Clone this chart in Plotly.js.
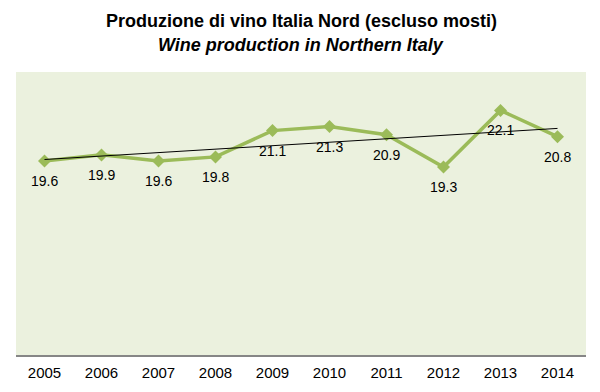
<!DOCTYPE html>
<html>
<head>
<meta charset="utf-8">
<script src="https://cdn.plot.ly/plotly-3.0.1.min.js"></script>
<style>body{margin:0;padding:0;background:#fff}#chart{width:600px;height:392px}</style>
</head>
<body>
<div id="chart"></div>
<script>
const years = ["2005","2006","2007","2008","2009","2010","2011","2012","2013","2014"];
const production = [19.6, 19.9, 19.6, 19.8, 21.1, 21.3, 20.9, 19.3, 22.1, 20.8];
const titleLine1 = "Produzione di vino Italia Nord (escluso mosti)";
const titleLine2 = "Wine production in Northern Italy";

// linear trendline (least squares) derived from the data
const n = production.length;
const xs = production.map((_, i) => i);
const mx = xs.reduce((a, b) => a + b, 0) / n;
const my = production.reduce((a, b) => a + b, 0) / n;
let sxy = 0, sxx = 0;
for (let i = 0; i < n; i++) { sxy += (xs[i] - mx) * (production[i] - my); sxx += (xs[i] - mx) * (xs[i] - mx); }
const slope = sxy / sxx, intercept = my - slope * mx;
const trend = xs.map(x => intercept + slope * x);

const titleFont = "'Liberation Sans Narrow', 'Arial Narrow', 'Liberation Sans', Arial, sans-serif";

const data = [
  {
    x: years, y: production, type: "scatter", mode: "lines+markers",
    line: {color: "#9BBB59", width: 3.5},
    marker: {symbol: "diamond", size: 10, color: "#9BBB59"},
    hoverinfo: "skip", showlegend: false
  },
  {
    x: years, y: trend, type: "scatter", mode: "lines",
    line: {color: "#000000", width: 1},
    hoverinfo: "skip", showlegend: false
  }
];

const annotations = years.map((yr, i) => ({
  x: i, y: production[i], xref: "x", yref: "y",
  text: production[i].toFixed(1), showarrow: false, yshift: -20,
  font: {family: "'Liberation Sans', Arial, sans-serif", size: 14, color: "#000"}
}));
annotations.push({
  xref: "paper", yref: "paper", x: 0.5, y: 1, yanchor: "bottom", yshift: 39,
  text: "<b>" + titleLine1 + "</b>", showarrow: false,
  font: {family: titleFont, size: 18, color: "#000"}
});
annotations.push({
  xref: "paper", yref: "paper", x: 0.5, y: 1, yanchor: "bottom", yshift: 15,
  text: "<b><i>" + titleLine2 + "</i></b>", showarrow: false,
  font: {family: titleFont, size: 18, color: "#000"}
});

const layout = {
  width: 600, height: 392,
  margin: {l: 16, r: 14, t: 72, b: 37, pad: 0},
  paper_bgcolor: "#ffffff",
  plot_bgcolor: "#EBF1DE",
  xaxis: {
    type: "category", range: [-0.5, 9.5],
    showgrid: false, zeroline: false,
    showline: true, linecolor: "#868686", linewidth: 1.5,
    ticks: "", ticklen: 0, ticklabelstandoff: 3,
    tickfont: {family: "'Liberation Sans', Arial, sans-serif", size: 15, color: "#000"}
  },
  yaxis: {
    range: [10, 24], visible: false, showgrid: false, zeroline: false
  },
  annotations: annotations
};

Plotly.newPlot("chart", data, layout, {staticPlot: true});
</script>
</body>
</html>
